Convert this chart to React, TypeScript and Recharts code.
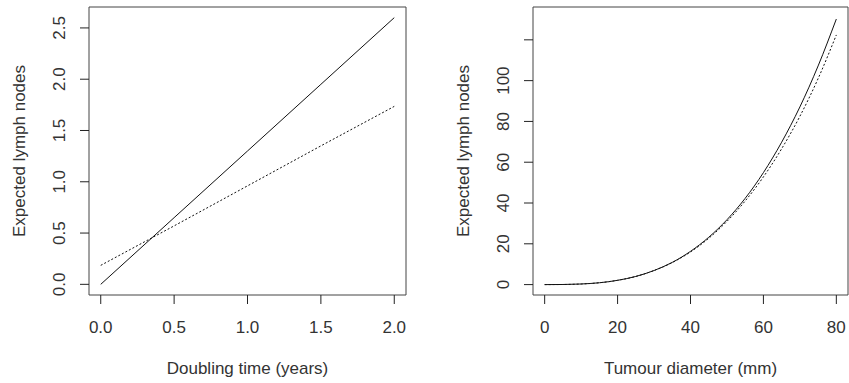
import React from 'react';
import { LineChart, Line, XAxis, YAxis, ReferenceArea } from 'recharts';

// left panel: expected nodes vs doubling time
const doublingTime = [0, 0.5, 1, 1.5, 2];
const nodesSolidByTime = [0, 0.65, 1.3, 1.95, 2.6];
const nodesDottedByTime = [0.185, 0.57, 0.96, 1.35, 1.735];
const timeTicks = [0, 0.5, 1, 1.5, 2];
const timeNodeTicks = [0, 0.5, 1, 1.5, 2, 2.5];

// right panel: expected nodes vs tumour diameter
const diameter = [0, 5, 10, 15, 20, 25, 30, 35, 40, 45, 50, 55, 60, 65, 70, 75, 80];
const nodesSolidByDiam = [0, 0.05, 0.3, 0.9, 2.1, 4.0, 6.9, 10.9, 16.3, 23.2, 31.8, 42.3, 54.9, 69.8, 87.1, 107.2, 130.2];
const nodesDottedByDiam = [0, 0.05, 0.3, 0.9, 2.1, 4.0, 6.9, 10.8, 16.0, 22.7, 31.0, 41.0, 52.8, 66.6, 82.5, 101.0, 122.4];
const diamTicks = [0, 20, 40, 60, 80];
const diamNodeTicks = [0, 20, 40, 60, 80, 100, 120];
const unlabelledTicks = [120];

const FONT = 'Liberation Sans, Arial, sans-serif';
const TEXT = '#333';
const SIZE = 17;

const timeData = doublingTime.map((x, i) => ({
  x,
  solid: nodesSolidByTime[i],
  dotted: nodesDottedByTime[i],
}));

const diamData = diameter.map((x, i) => ({
  x,
  solid: nodesSolidByDiam[i],
  dotted: nodesDottedByDiam[i],
}));

const makeXTick = (fmt: (v: number) => string) => (props: any) => (
  <text
    x={props.x}
    y={props.y + 23}
    textAnchor="middle"
    dominantBaseline="central"
    fontFamily={FONT}
    fontSize={SIZE}
    fill={TEXT}
  >
    {fmt(props.payload.value)}
  </text>
);

const makeYTick = (fmt: (v: number) => string) => (props: any) => {
  const v = props.payload.value;
  if (unlabelledTicks.includes(v) && fmt(v) === String(v)) return <g />;
  const x = props.x - 20;
  return (
    <text
      x={x}
      y={props.y}
      transform={`rotate(-90, ${x}, ${props.y})`}
      textAnchor="middle"
      dominantBaseline="central"
      fontFamily={FONT}
      fontSize={SIZE}
      fill={TEXT}
    >
      {fmt(v)}
    </text>
  );
};

const xTitle = (text: string) => (props: any) => {
  const vb = props.viewBox;
  return (
    <text
      x={vb.x + vb.width / 2}
      y={vb.y + 73}
      textAnchor="middle"
      dominantBaseline="central"
      fontFamily={FONT}
      fontSize={SIZE}
      fill={TEXT}
    >
      {text}
    </text>
  );
};

// title sits a fixed distance left of the plot box
const yTitle = (text: string) => (props: any) => {
  const vb = props.viewBox;
  const x = vb.x + vb.width - 70;
  const y = vb.y + vb.height / 2;
  return (
    <text
      x={x}
      y={y}
      transform={`rotate(-90, ${x}, ${y})`}
      textAnchor="middle"
      dominantBaseline="central"
      fontFamily={FONT}
      fontSize={SIZE}
      fill={TEXT}
    >
      {text}
    </text>
  );
};

const fmt1 = (v: number) => v.toFixed(1);
const fmt0 = (v: number) => String(v);

interface PanelProps {
  data: { x: number; solid: number; dotted: number }[];
  left: number;
  width: number;
  yAxisWidth: number;
  marginRight: number;
  xDomain: [number, number];
  yDomain: [number, number];
  xTicks: number[];
  yTicks: number[];
  fmt: (v: number) => string;
  xLabel: string;
  curve: 'linear' | 'monotone';
}

const Panel: React.FC<PanelProps> = ({
  data, left, width, yAxisWidth, marginRight, xDomain, yDomain,
  xTicks, yTicks, fmt, xLabel, curve,
}) => (
  <div style={{ position: 'absolute', left, top: 0 }}>
    <LineChart
      width={width}
      height={383}
      data={data}
      margin={{ top: 7, right: marginRight, bottom: 0, left: 0 }}
    >
      <XAxis
        dataKey="x"
        type="number"
        domain={xDomain}
        ticks={xTicks}
        allowDataOverflow
        axisLine={false}
        tickSize={9}
        tickMargin={0}
        tickLine={{ stroke: '#222' }}
        tick={makeXTick(fmt)}
        height={88}
        label={xTitle(xLabel)}
      />
      <YAxis
        type="number"
        domain={yDomain}
        ticks={yTicks}
        allowDataOverflow
        axisLine={false}
        tickSize={9}
        tickMargin={0}
        tickLine={{ stroke: '#222' }}
        tick={makeYTick(fmt)}
        width={yAxisWidth}
        label={yTitle('Expected lymph nodes')}
      />
      <ReferenceArea
        x1={xDomain[0]}
        x2={xDomain[1]}
        y1={yDomain[0]}
        y2={yDomain[1]}
        fill="none"
        stroke="#444"
        strokeWidth={1}
        ifOverflow="visible"
      />
      <Line
        type={curve}
        dataKey="solid"
        stroke="#111"
        strokeWidth={1}
        dot={false}
        isAnimationActive={false}
      />
      <Line
        type={curve}
        dataKey="dotted"
        stroke="#111"
        strokeWidth={1}
        strokeDasharray="2 2"
        dot={false}
        isAnimationActive={false}
      />
    </LineChart>
  </div>
);

export default function App() {
  return (
    <div style={{ position: 'absolute', left: 0, top: 0, width: 849, height: 383, background: '#fff' }}>
      <Panel
        data={timeData}
        left={0}
        width={430}
        yAxisWidth={89}
        marginRight={24}
        xDomain={[-0.08, 2.08]}
        yDomain={[-0.104, 2.704]}
        xTicks={timeTicks}
        yTicks={timeNodeTicks}
        fmt={fmt1}
        xLabel="Doubling time (years)"
        curve="linear"
      />
      <Panel
        data={diamData}
        left={430}
        width={419}
        yAxisWidth={103}
        marginRight={1}
        xDomain={[-3.2, 83.2]}
        yDomain={[-5.1, 136.1]}
        xTicks={diamTicks}
        yTicks={diamNodeTicks}
        fmt={fmt0}
        xLabel="Tumour diameter (mm)"
        curve="monotone"
      />
    </div>
  );
}
